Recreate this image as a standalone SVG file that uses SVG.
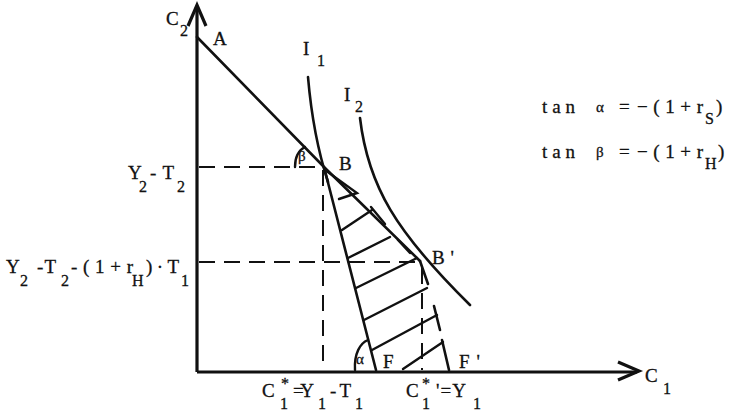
<svg xmlns="http://www.w3.org/2000/svg" width="729" height="415" viewBox="0 0 729 415">
<style>
text{font-family:"Liberation Serif","DejaVu Serif",serif;fill:#111;font-size:19px;stroke:#111;stroke-width:0.3}
.s{font-size:16px}
.g{font-size:15px}
.ax{stroke:#111;stroke-width:3.2;fill:none}
.ln{stroke:#111;stroke-width:2.6;fill:none;stroke-linecap:round}
.d{stroke:#111;stroke-width:2;fill:none;stroke-dasharray:16 9}
.h{stroke:#111;stroke-width:2.4;fill:none;stroke-linecap:round}
</style>
<rect width="729" height="415" fill="#fff"/>
<g id="axes">
<path class="ax" d="M197,372 V6 M197,372 H637"/>
<path class="ax" d="M188,26 L197,5 L206,26" stroke-linejoin="miter"/>
<path class="ax" d="M618,362 L639,371 L618,380"/>
</g>
<g id="connectors">
<path class="d" d="M199,167 H322"/>
<path class="d" d="M199,262 H418"/>
<path class="d" d="M323,170 V370"/>
<path class="d" d="M422,268 V370"/>
<path class="ln" d="M197,37 L324,167 L420,261"/>
<path class="ln" d="M324,167 L376,370"/>
<path class="ln" d="M420,261 L428,284 M434,306 L440,330 M442,340 L449,370"/>
<path class="ln" d="M308,77 C311,112 316,145 328,182"/>
<path class="ln" d="M360,118 C368,186 396,232 470,305"/>
<path class="h" d="M325,170 L357,193 L339,199"/>
<path class="h" d="M342,230 L372,210 M371,207 L385,224"/>
<path class="h" d="M348,258 L390,237 M398,240 L410,253"/>
<path class="h" d="M356,288 L417,258"/>
<path class="h" d="M364,320 L427,288"/>
<path class="h" d="M372,350 L437,315"/>
<path class="h" d="M403,369 L443,342"/>
<path class="h" d="M295,167 C295,157 299,150 305,147"/>
<path class="h" d="M355,370 C354,354 360,343 368,340"/>
</g>
<g id="labels">
<text x="166" y="25">C</text><text class="s" x="180" y="36">2</text>
<text x="213" y="45">A</text>
<text x="303" y="55">I</text><text class="s" x="317" y="66">1</text>
<text x="344" y="101">I</text><text class="s" x="355" y="112">2</text>
<text x="339" y="170">B</text>
<text x="432" y="264" textLength="22" lengthAdjust="spacing">B'</text>
<text x="383" y="368">F</text>
<text x="459" y="368" textLength="21" lengthAdjust="spacing">F'</text>
<text class="g" x="298" y="161">β</text>
<text class="g" x="356" y="364">α</text>
<text x="128" y="179">Y</text><text class="s" x="139" y="192">2</text><text x="150" y="179" textLength="24" lengthAdjust="spacing">-T</text><text class="s" x="177" y="192">2</text>
<text x="6" y="273">Y</text><text class="s" x="20" y="286">2</text><text x="37" y="273" textLength="19" lengthAdjust="spacing">-T</text><text class="s" x="61" y="286">2</text><text x="71" y="273" textLength="62" lengthAdjust="spacing">-(1+r</text><text class="s" x="132" y="286">H</text><text x="146" y="273" textLength="33" lengthAdjust="spacing">)·T</text><text class="s" x="181" y="286">1</text>
<text x="262" y="397">C</text><text class="s" x="281" y="389">*</text><text class="s" x="280" y="409">1</text><text x="293" y="397" textLength="21" lengthAdjust="spacing">=Y</text><text class="s" x="318" y="409">1</text><text x="330" y="397" textLength="21" lengthAdjust="spacing">-T</text><text class="s" x="355" y="409">1</text>
<text x="406" y="397">C</text><text class="s" x="422" y="389">*</text><text class="s" x="422" y="409">1</text><text x="436" y="397" textLength="30" lengthAdjust="spacing">'=Y</text><text class="s" x="473" y="409">1</text>
<text x="645" y="382">C</text><text class="s" x="663" y="394">1</text>
<text x="542" y="113" textLength="33" lengthAdjust="spacing">tan</text><text class="g" x="596" y="112">α</text><text x="619" y="113">=</text><text x="637" y="113" textLength="66" lengthAdjust="spacing">−(1+r</text><text class="s" x="705" y="124">S</text><text x="716" y="113">)</text>
<text x="542" y="158" textLength="33" lengthAdjust="spacing">tan</text><text class="g" x="596" y="157">β</text><text x="619" y="158">=</text><text x="637" y="158" textLength="66" lengthAdjust="spacing">−(1+r</text><text class="s" x="705" y="169">H</text><text x="718" y="158">)</text>
</g>
</svg>
